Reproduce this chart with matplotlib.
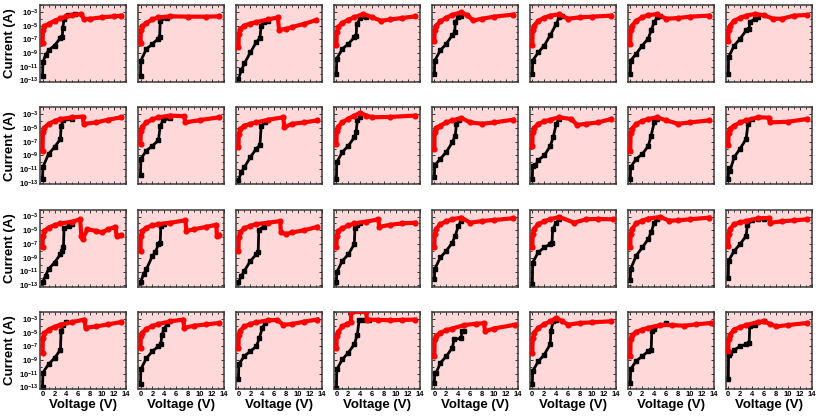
import numpy as np
import matplotlib
matplotlib.use('Agg')
import matplotlib.pyplot as plt
from matplotlib.ticker import FixedLocator, MultipleLocator

plt.rcParams['font.family'] = ['Liberation Sans', 'DejaVu Sans']
plt.rcParams['font.weight'] = 'bold'
plt.rcParams['mathtext.fontset'] = 'custom'
plt.rcParams['mathtext.bf'] = 'Liberation Sans:bold'
plt.rcParams['mathtext.rm'] = 'Liberation Sans:bold'

# data: voltage (V) and log10 current (A), one list per panel, rows top to bottom
black_v_row1 = [[0, 0.05, 0.5, 1, 2, 3, 3.3, 3.4, 3.6, 4.2, 5.5],
                [0, 0.05, 1, 2, 3, 3.2, 3.3, 4.5],
                [0, 0.5, 1, 2, 3, 3.6, 3.8, 4.2, 5],
                [0, 0.05, 1, 2, 3, 3.3, 3.4, 4, 5],
                [0, 0.05, 1, 2, 3, 3.4, 3.5, 4, 4.5],
                [0, 0.05, 1, 2, 3, 4, 4.5, 5],
                [0, 0.05, 1, 2, 3, 3.5, 4, 4.5, 5],
                [0, 0.05, 1, 2, 3, 3.5, 3.6, 4.5, 5]]
black_i_row1 = [[-12.3, -10.3, -9.3, -8.6, -7.9, -6.8, -6.6, -5.3, -4.1, -3.5, -3.3],
                [-12.3, -10.1, -8.4, -7.65, -6.9, -6.7, -4.3, -3.9],
                [-12.7, -11.5, -10.5, -8.9, -7.4, -6.8, -5.0, -4.5, -4.3],
                [-12.0, -9.8, -8.4, -7.65, -6.7, -6.5, -4.8, -3.9, -3.8],
                [-12.0, -10.1, -8.6, -7.65, -6.4, -6.0, -4.5, -3.8, -3.6],
                [-12.0, -10.1, -8.9, -7.9, -6.4, -4.75, -3.8, -3.6],
                [-12.0, -10.1, -9.1, -7.9, -6.9, -5.7, -4.5, -3.8, -3.6],
                [-12.0, -9.6, -7.9, -6.9, -5.7, -5.5, -4.5, -4.0, -3.8]]
red_v_row1 = [[0, 0.05, 0.3, 1, 2, 3, 4, 5, 6.5, 6.9, 8, 10, 12, 13.2],
              [0, 0.05, 0.3, 1, 2, 3, 5, 8, 11, 13.2],
              [0, 0.05, 0.3, 1, 2, 3, 5, 6.6, 6.8, 8, 9, 11, 13],
              [0, 0.05, 0.3, 1, 2, 3, 4.5, 6, 7.5, 9, 11, 13.2],
              [0, 0.05, 0.3, 1, 2, 3, 4.5, 5.5, 6.5, 8, 10, 13.2],
              [0, 0.05, 0.3, 1, 2, 3, 4.5, 6, 8, 10, 13.2],
              [0, 0.05, 0.3, 1, 2, 3, 4.5, 6, 8, 10, 13.2],
              [0, 0.05, 0.3, 1, 2, 3, 4.5, 6, 7.5, 9, 11, 13.2]]
red_i_row1 = [[-7.6, -5.7, -5.1, -4.75, -4.3, -3.95, -3.65, -3.45, -3.3, -4.05, -4.0, -3.8, -3.65, -3.55],
              [-7.55, -5.7, -5.1, -4.6, -4.1, -3.8, -3.65, -3.7, -3.7, -3.65],
              [-8.1, -6.2, -5.5, -5.0, -4.7, -4.5, -4.1, -3.8, -5.6, -5.5, -5.2, -4.75, -4.2],
              [-7.8, -6.0, -5.2, -4.6, -4.15, -3.8, -3.3, -3.8, -4.3, -4.1, -3.9, -3.65],
              [-7.2, -5.7, -5.0, -4.4, -3.85, -3.45, -3.05, -3.5, -4.25, -4.0, -3.7, -3.4],
              [-7.8, -5.7, -5.0, -4.3, -3.85, -3.55, -3.35, -4.0, -3.8, -3.7, -3.55],
              [-7.65, -5.7, -5.0, -4.3, -3.8, -3.45, -3.35, -4.0, -3.9, -3.7, -3.55],
              [-7.3, -5.6, -5.0, -4.3, -3.85, -3.55, -3.3, -3.5, -4.0, -4.0, -3.55, -3.45]]

black_v_row2 = [[0, 0.05, 1, 2, 3, 3.1, 3.5, 5],
                [0, 0.05, 1, 2, 3, 3.3, 3.8, 5],
                [0, 0.5, 1, 2, 3, 3.6, 3.8, 4.5],
                [0, 0.05, 1, 2, 3, 3.3, 3.5, 4],
                [0, 0.05, 1, 2, 3, 3.5, 3.7, 4.2],
                [0, 0.05, 0.5, 1, 2, 3, 3.5, 4, 4.5],
                [0, 0.05, 1, 2, 3, 3.5, 4, 4.5],
                [0, 0.05, 0.3, 1, 2, 3, 3.3, 4]]
black_i_row2 = [[-12.4, -10.7, -8.8, -7.8, -6.6, -4.7, -3.9, -3.7],
                [-11.9, -9.5, -8.3, -7.6, -6.8, -4.7, -3.9, -3.6],
                [-12.6, -11.4, -10.7, -9.25, -8.0, -7.5, -4.7, -4.2],
                [-12.4, -10.0, -8.5, -7.6, -6.35, -5.6, -3.9, -3.45],
                [-12.1, -10.45, -9.5, -8.5, -7.1, -6.1, -4.4, -3.9],
                [-12.4, -10.5, -10.45, -9.7, -9.0, -7.65, -6.35, -4.4, -3.7],
                [-12.4, -10.7, -9.5, -8.8, -7.65, -6.1, -4.2, -3.7],
                [-12.5, -10.9, -11.2, -9.25, -8.0, -6.6, -4.4, -3.7]]
red_v_row2 = [[0, 0.05, 0.3, 1, 2, 3, 5, 6.7, 6.9, 9, 11, 13.2],
              [0, 0.05, 0.3, 1, 2, 3, 5, 7.3, 7.5, 10, 13.2],
              [0, 0.05, 0.3, 1, 2, 3, 5, 7.5, 7.7, 9, 11, 13.2],
              [0, 0.05, 0.3, 1, 2, 3, 4, 5, 6, 9, 13.2],
              [0, 0.05, 0.3, 1, 2, 3, 4.5, 6, 8, 10, 13.2],
              [0, 0.05, 0.3, 1, 2, 3, 4.5, 6.5, 7.5, 9, 11, 13.2],
              [0, 0.05, 0.3, 1, 2, 3, 4.5, 6, 8, 10, 13.2],
              [0, 0.05, 0.3, 1, 2, 3, 5, 6.8, 7, 10, 13.2]]
red_i_row2 = [[-8.3, -5.6, -5.0, -4.4, -4.0, -3.7, -3.45, -3.35, -4.4, -4.2, -3.8, -3.45],
              [-7.3, -5.4, -4.8, -4.2, -3.75, -3.45, -3.2, -3.3, -4.2, -3.85, -3.45],
              [-7.8, -5.9, -5.2, -4.65, -4.4, -4.2, -3.8, -3.45, -4.9, -4.4, -4.2, -3.9],
              [-7.3, -5.4, -4.8, -4.2, -3.65, -3.2, -2.8, -3.2, -3.45, -3.4, -3.2],
              [-8.0, -5.6, -5.0, -4.65, -4.2, -3.9, -3.55, -4.2, -4.4, -4.2, -3.8],
              [-7.65, -5.6, -5.0, -4.4, -4.05, -3.8, -3.45, -3.7, -4.55, -4.4, -4.2, -3.7],
              [-8.3, -5.8, -5.1, -4.4, -4.0, -3.7, -3.45, -3.9, -4.4, -4.2, -3.9],
              [-7.55, -5.7, -5.1, -4.65, -4.2, -3.9, -3.45, -3.5, -4.2, -4.1, -3.7]]

black_v_row3 = [[0, 0.5, 1, 2, 3, 3.3, 3.5, 3.6, 4.5, 5],
                [0, 0.5, 1, 2, 2.5, 3, 3.3, 3.4, 4],
                [0, 0.5, 1, 2, 3, 3.3, 3.4, 4.2],
                [0, 0.05, 1, 2, 3, 3.1, 3.5, 4],
                [0, 0.05, 1, 2, 3, 3.5, 4, 4.5],
                [0, 0.05, 1, 2, 3, 3.3, 3.4, 4, 4.5],
                [0, 0.05, 1, 2, 3, 3.5, 4, 4.5],
                [0, 0.05, 1, 2, 3, 3.2, 4, 5, 6]]
black_i_row3 = [[-12.6, -11.6, -10.65, -9.7, -8.5, -8.0, -7.5, -4.6, -4.4, -4.1],
                [-12.6, -11.4, -10.65, -8.7, -8.2, -7.0, -6.8, -4.4, -4.1],
                [-12.6, -11.6, -10.9, -9.45, -8.5, -8.2, -4.9, -4.5],
                [-12.6, -11.1, -9.45, -8.5, -7.0, -4.6, -4.2, -4.0],
                [-12.1, -10.65, -8.95, -8.0, -6.8, -5.8, -4.4, -3.6],
                [-12.8, -9.7, -8.2, -7.5, -7.0, -6.8, -4.85, -3.9, -3.4],
                [-12.2, -10.65, -8.7, -7.5, -6.3, -5.3, -3.9, -3.4],
                [-11.9, -9.45, -8.0, -7.0, -5.8, -4.2, -3.55, -3.4, -3.35]]
red_v_row3 = [[0, 0.05, 0.3, 1, 2, 3, 5, 6.3, 6.5, 6.7, 7.5, 9, 10, 11, 12.2, 12.4, 13.2],
              [0, 0.05, 0.3, 1, 2, 3, 5, 7.5, 7.7, 9, 11, 12.7, 12.8, 13.2],
              [0, 0.05, 0.3, 1, 2, 3, 5, 7, 7.1, 8, 9, 11, 13.2],
              [0, 0.05, 0.3, 1, 2, 3, 5, 7, 7.2, 9, 11, 13.2],
              [0, 0.05, 0.3, 1, 2, 3, 4.5, 6, 8, 10, 13.2],
              [0, 0.05, 0.3, 1, 2, 3, 4.5, 7, 9, 11, 13.5],
              [0, 0.05, 0.3, 1, 2, 3, 5, 6.5, 8, 10, 13.2],
              [0, 0.05, 0.3, 1, 2, 3, 5, 6.8, 7, 9, 11, 13.2]]
red_i_row3 = [[-7.5, -5.8, -5.1, -4.6, -4.25, -4.0, -3.75, -3.4, -5.8, -6.3, -4.85, -5.1, -5.3, -4.85, -4.5, -5.8, -5.7],
              [-8.0, -5.8, -5.1, -4.6, -4.3, -4.1, -3.9, -3.55, -5.1, -4.85, -4.5, -4.2, -5.8, -5.7],
              [-8.0, -6.0, -5.3, -4.7, -4.35, -4.1, -3.9, -3.65, -5.3, -5.55, -5.3, -5.0, -4.5],
              [-7.4, -5.8, -5.1, -4.7, -4.3, -4.0, -3.75, -3.4, -4.5, -4.2, -4.0, -3.9],
              [-7.4, -5.6, -4.8, -4.1, -3.7, -3.4, -3.15, -3.9, -3.65, -3.5, -3.25],
              [-7.5, -5.6, -4.8, -4.1, -3.7, -3.4, -3.05, -3.9, -3.4, -3.35, -3.4],
              [-7.4, -5.6, -4.8, -4.0, -3.6, -3.3, -3.06, -3.6, -3.55, -3.4, -3.16],
              [-7.25, -5.6, -4.8, -4.1, -3.85, -3.65, -3.26, -3.2, -3.9, -3.7, -3.55, -3.4]]

black_v_row4 = [[0, 0.05, 1, 2, 3, 3.1, 3.5, 4],
                [0, 0.05, 1, 2, 3, 3.4, 3.6, 4, 4.5],
                [0, 0.05, 1, 2, 3, 3.5, 4, 4.5],
                [0, 0.05, 1, 2, 3, 3.5, 3.8, 4.5, 5.5],
                [0, 0.05, 0.3, 1, 2, 3, 3.3, 4.5, 4.6, 5],
                [0, 0.05, 1, 2, 3, 3.1, 3.5, 4],
                [0, 0.05, 1, 2, 3, 3.5, 3.6, 4, 6],
                [0, 0.05, 0.3, 1, 2, 3, 3.5, 3.6, 4.5, 6]]
black_i_row4 = [[-12.9, -10.85, -9.6, -8.7, -7.5, -4.8, -3.85, -3.5],
                [-12.5, -10.35, -8.7, -7.7, -7.0, -6.6, -5.3, -4.4, -3.7],
                [-11.8, -9.6, -8.4, -7.7, -7.0, -5.8, -4.3, -3.6],
                [-13.1, -10.35, -8.9, -7.9, -6.7, -5.3, -3.2, -3.1, -3.1],
                [-12.3, -10.85, -10.85, -9.4, -8.45, -7.2, -6.0, -5.8, -4.8, -4.7],
                [-12.5, -10.6, -9.2, -8.2, -6.7, -4.8, -3.35, -3.1],
                [-12.3, -10.35, -9.1, -8.45, -7.7, -7.5, -4.8, -4.4, -3.6],
                [-11.7, -8.2, -8.0, -7.5, -7.0, -6.7, -6.5, -4.1, -3.85, -3.35]]
red_v_row4 = [[0, 0.05, 0.3, 1, 2, 3, 5, 7, 7.2, 9, 11, 13.2],
              [0, 0.05, 0.3, 1, 2, 3, 5, 7.2, 7.3, 9, 11, 13.2],
              [0, 0.05, 0.3, 1, 2, 3, 5, 6.5, 7.5, 9, 11, 13.2],
              [0, 0.05, 0.3, 1, 1.7, 2.4, 2.5, 5.0, 5.1, 7, 9, 11, 13.2],
              [0, 0.05, 0.3, 1, 2, 3, 5, 7, 8.3, 8.5, 10, 13.5],
              [0, 0.05, 0.3, 1, 2, 3, 4, 5, 6, 8, 10, 13.2],
              [0, 0.05, 0.3, 1, 2, 3, 5, 7, 9, 11, 13.5],
              [0, 0.05, 0.3, 1, 2, 3, 5, 6, 7, 8, 10, 13.2]]
red_i_row4 = [[-7.9, -5.8, -5.1, -4.55, -4.15, -3.85, -3.45, -3.1, -4.3, -4.1, -3.8, -3.45],
              [-7.3, -5.5, -5.0, -4.45, -4.05, -3.75, -3.35, -3.1, -4.3, -4.0, -3.8, -3.6],
              [-7.3, -5.3, -4.7, -4.1, -3.75, -3.5, -3.2, -3.16, -3.85, -3.75, -3.4, -3.1],
              [-7.3, -5.5, -4.9, -4.1, -3.75, -3.5, -2.0, -2.0, -3.1, -3.15, -3.2, -3.15, -3.1],
              [-8.4, -6.0, -5.5, -5.0, -4.65, -4.4, -3.9, -3.7, -3.65, -4.8, -4.4, -3.85],
              [-7.9, -5.8, -5.0, -4.3, -3.8, -3.35, -2.87, -3.35, -3.84, -3.6, -3.5, -3.35],
              [-8.4, -6.0, -5.4, -4.9, -4.55, -4.3, -3.9, -3.9, -4.0, -3.8, -3.6],
              [-7.7, -6.0, -5.3, -4.55, -4.2, -3.9, -3.45, -3.35, -3.75, -4.1, -3.9, -3.6]]

black_v = [black_v_row1, black_v_row2, black_v_row3, black_v_row4]
black_i = [black_i_row1, black_i_row2, black_i_row3, black_i_row4]
red_v = [red_v_row1, red_v_row2, red_v_row3, red_v_row4]
red_i = [red_i_row1, red_i_row2, red_i_row3, red_i_row4]

x_ticks = [0, 2, 4, 6, 8, 10, 12, 14]
y_exps = [-3, -5, -7, -9, -11, -13]

fig, axes = plt.subplots(4, 8, figsize=(8.2, 4.16), dpi=100)
fig.subplots_adjust(left=0.049, right=0.990, top=0.988, bottom=0.065,
                    wspace=0.14, hspace=0.33)

for r in range(4):
    for c in range(8):
        ax = axes[r, c]
        ax.set_facecolor('#ffd9d9')
        ax.plot(black_v[r][c], 10.0 ** np.array(black_i[r][c]), color='black',
                lw=2.0, marker='s', ms=2.8, zorder=2)
        ax.plot(red_v[r][c], 10.0 ** np.array(red_i[r][c]), color='red',
                lw=3.0, marker='o', ms=3.4, zorder=3)
        ax.set_yscale('log')
        ax.set_xlim(-0.4, 14)
        ax.set_ylim(10 ** -13.2, 1e-2)
        ax.xaxis.set_major_locator(FixedLocator(x_ticks))
        ax.xaxis.set_minor_locator(MultipleLocator(1))
        ax.yaxis.set_major_locator(FixedLocator([10.0 ** e for e in y_exps]))
        ax.yaxis.set_minor_locator(FixedLocator([10.0 ** e for e in range(-13, -1)]))
        ax.tick_params(which='both', direction='in', top=True, right=True,
                       color='#333333', width=0.7, labelsize=5.5, pad=1.5)
        ax.tick_params(which='major', length=2.5)
        ax.tick_params(which='minor', length=1.5)
        for s in ax.spines.values():
            s.set_color('#3a3a3a')
            s.set_linewidth(1.1)
        if c == 0:
            ax.set_yticklabels([r'$\mathbf{10^{%d}}$' % e for e in y_exps])
            ax.set_ylabel('Current (A)', fontsize=9.5, fontweight='bold', labelpad=2)
        else:
            ax.set_yticklabels([])
        ax.yaxis.set_minor_formatter(plt.NullFormatter())
        if r == 3:
            ax.set_xticklabels([str(t) for t in x_ticks], fontweight='bold')
            ax.set_xlabel('Voltage (V)', fontsize=9.5, fontweight='bold', labelpad=1)
        else:
            ax.set_xticklabels([])

plt.savefig('out.png', dpi=100)
